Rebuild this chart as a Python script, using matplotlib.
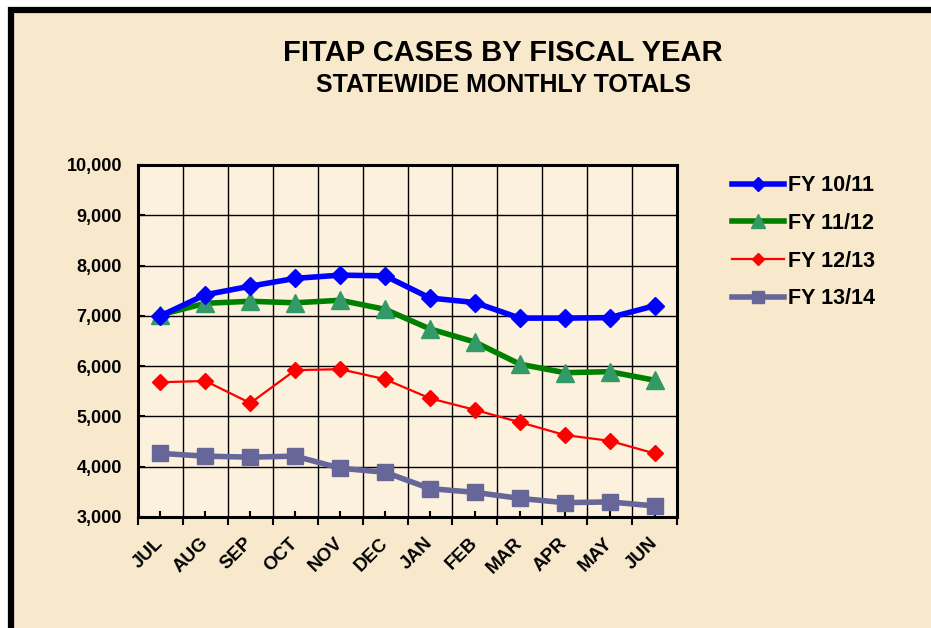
import numpy as np
import matplotlib.pyplot as plt
from matplotlib.patches import Rectangle

plt.rcParams['font.family'] = ['Liberation Sans', 'DejaVu Sans']
plt.rcParams['font.weight'] = 'bold'

months = ["JUL", "AUG", "SEP", "OCT", "NOV", "DEC", "JAN", "FEB", "MAR", "APR", "MAY", "JUN"]

fy1011 = [7000, 7420, 7590, 7745, 7810, 7795, 7355, 7265, 6955, 6955, 6965, 7200]
fy1112 = [7020, 7250, 7290, 7260, 7310, 7130, 6740, 6480, 6040, 5870, 5890, 5720]
fy1213 = [5680, 5705, 5265, 5920, 5940, 5740, 5360, 5130, 4885, 4630, 4515, 4265]
fy1314 = [4265, 4210, 4190, 4210, 3970, 3890, 3565, 3490, 3370, 3285, 3300, 3220]

bg = '#F8E9CD'
fig = plt.figure(figsize=(9.31, 6.28), dpi=100, facecolor='white')
# beige panel with the black frame on the left/top
fig.patches.append(Rectangle((11 / 931, -0.1), 1.2, (628 - 10.5) / 628 + 0.1,
                             transform=fig.transFigure, facecolor=bg,
                             edgecolor='black', linewidth=4.5, zorder=-5))

ax = fig.add_axes([138 / 931, 1 - 517 / 628, 539 / 931, 352 / 628])
ax.set_facecolor('#FCF1DC')

x = np.arange(len(months))
ax.plot(x, fy1011, color='#0000FF', lw=4, marker='D', ms=9, label='FY 10/11', zorder=5)
ax.plot(x, fy1112, color='#008000', lw=4, marker='^', ms=13, mfc='#339966', mec='#339966',
        label='FY 11/12', zorder=4)
ax.plot(x, fy1213, color='#FF0000', lw=1.6, marker='D', ms=8.5, label='FY 12/13', zorder=6)
ax.plot(x, fy1314, color='#666699', lw=4, marker='s', ms=12, label='FY 13/14', zorder=3)

ax.set_xlim(-0.5, 11.5)
ax.set_ylim(3000, 10000)
ax.set_yticks(range(3000, 10001, 1000))
ax.set_yticklabels([f"{v:,}" for v in range(3000, 10001, 1000)], fontsize=13, fontweight='bold')
ax.set_xticks(x)
ax.set_xticklabels(months, rotation=45, ha='right', va='center', rotation_mode='anchor',
                   fontsize=13.5, fontweight='bold')
ax.set_xticks(np.arange(-0.5, 12, 1), minor=True)
ax.tick_params(axis='x', which='major', direction='in', length=4, width=1.5, pad=17)
ax.tick_params(axis='x', which='minor', direction='out', length=6, width=1.5)
ax.tick_params(axis='y', direction='in', length=5, width=1.5, pad=11.5)
ax.grid(True, which='minor', axis='x', color='black', lw=1)
ax.grid(True, which='major', axis='y', color='black', lw=1)
ax.set_axisbelow(True)
for s in ax.spines.values():
    s.set_linewidth(2.2)

fig.text(503 / 931, 1 - 53 / 628, "FITAP CASES BY FISCAL YEAR", ha='center', va='center',
         fontsize=21, fontweight='bold')
fig.text(503 / 931, 1 - 85 / 628, "STATEWIDE MONTHLY TOTALS", ha='center', va='center',
         fontsize=18, fontweight='bold')

leg = fig.legend(loc='upper left', bbox_to_anchor=(713 / 931, 1 - 156 / 628), frameon=False,
                 fontsize=15.5, handlelength=2.4, handletextpad=0.2, labelspacing=0.77,
                 markerscale=0.75)

fig.savefig('out.png', dpi=100, facecolor=fig.get_facecolor())
